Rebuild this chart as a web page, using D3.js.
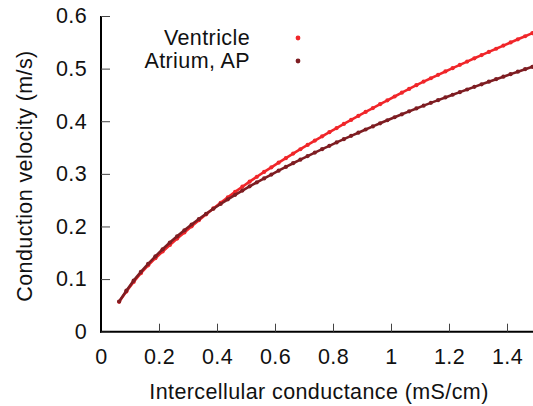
<!DOCTYPE html>
<html><head><meta charset="utf-8">
<script src="https://cdn.jsdelivr.net/npm/d3@7"></script>
<style>html,body{margin:0;padding:0;background:#fff;}svg{display:block;}</style>
</head><body>
<svg id="chart" width="533" height="406"></svg>
<script>
const conductance = [0.0625,0.0875,0.1125,0.1375,0.1625,0.1875,0.2125,0.2375,0.2625,0.2875,0.3125,0.3375,0.3625,0.3875,0.4125,0.4375,0.4625,0.4875,0.5125,0.5375,0.5625,0.5875,0.6125,0.6375,0.6625,0.6875,0.7125,0.7375,0.7625,0.7875,0.8125,0.8375,0.8625,0.8875,0.9125,0.9375,0.9625,0.9875,1.0125,1.0375,1.0625,1.0875,1.1125,1.1375,1.1625,1.1875,1.2125,1.2375,1.2625,1.2875,1.3125,1.3375,1.3625,1.3875,1.4125,1.4375,1.4625,1.4875];
const ventricle = [0.0567,0.0763,0.0946,0.1113,0.1261,0.1397,0.1525,0.1649,0.1769,0.1885,0.2003,0.2119,0.2231,0.2342,0.2449,0.2554,0.2657,0.2756,0.2851,0.2944,0.3036,0.3124,0.3213,0.3298,0.3385,0.3468,0.3550,0.3633,0.3713,0.3792,0.3870,0.3948,0.4025,0.4101,0.4176,0.4251,0.4325,0.4398,0.4470,0.4543,0.4614,0.4685,0.4753,0.4817,0.4882,0.4946,0.5009,0.5072,0.5134,0.5196,0.5257,0.5318,0.5378,0.5438,0.5497,0.5557,0.5615,0.5674];
const atrium = [0.0574,0.0779,0.0970,0.1138,0.1290,0.1433,0.1566,0.1694,0.1813,0.1927,0.2037,0.2142,0.2241,0.2337,0.2427,0.2515,0.2601,0.2683,0.2763,0.2839,0.2913,0.2987,0.3060,0.3131,0.3202,0.3270,0.3337,0.3404,0.3469,0.3533,0.3597,0.3659,0.3722,0.3782,0.3843,0.3902,0.3961,0.4019,0.4076,0.4132,0.4188,0.4243,0.4296,0.4349,0.4401,0.4452,0.4503,0.4553,0.4603,0.4653,0.4702,0.4751,0.4799,0.4847,0.4895,0.4942,0.4989,0.5035];
const seriesNames = ["Ventricle","Atrium, AP"];
const seriesColors = ["#f0262a","#7e1d22"];
const xTicks = [0,0.2,0.4,0.6,0.8,1,1.2,1.4];
const yTicks = [0,0.1,0.2,0.3,0.4,0.5,0.6];

const svg = d3.select("#chart");
const font = "'Liberation Sans', Arial, Helvetica, sans-serif";
const fs = 21.5, ls = 0.4;
const x = d3.scaleLinear().domain([0,1.5]).range([101,536]);
const y = d3.scaleLinear().domain([0,0.6]).range([331.7,16]);

// axes
const xAxis = svg.append("g").attr("transform","translate(0,331.7)")
  .call(d3.axisBottom(x).tickValues(xTicks).tickSizeInner(-8).tickSizeOuter(0).tickPadding(17)
    .tickFormat(d=>d3.format("~g")(d)));
const yAxis = svg.append("g").attr("transform","translate(101,0)")
  .call(d3.axisLeft(y).tickValues(yTicks).tickSizeInner(-9).tickSizeOuter(0).tickPadding(14)
    .tickFormat(d=>d3.format("~g")(d)));
[xAxis,yAxis].forEach(g=>{
  g.select(".domain").attr("stroke","#000").attr("stroke-width",2);
  g.selectAll(".tick line").attr("stroke","#444").attr("stroke-width",1);
  g.selectAll(".tick text").attr("font-family",font).attr("font-size",fs)
    .attr("letter-spacing",ls).attr("fill","#111");
});
xAxis.select(".domain").attr("d","M100,0H533");
yAxis.select(".domain").attr("d","M0,16V332.7");
xAxis.selectAll(".tick text").attr("dy","0.71em");

svg.append("text").attr("x",319).attr("y",399).attr("text-anchor","middle")
  .attr("font-family",font).attr("font-size",fs).attr("letter-spacing",ls).attr("fill","#111")
  .text("Intercellular conductance (mS/cm)");
svg.append("text").attr("transform","translate(32,176) rotate(-90)").attr("text-anchor","middle")
  .attr("font-family",font).attr("font-size",fs).attr("letter-spacing",ls).attr("fill","#111")
  .text("Conduction velocity (m/s)");

const allSeries = [ventricle, atrium];
const line = d3.line().x(d=>x(d[0])).y(d=>y(d[1]));
allSeries.forEach((vals,i)=>{
  const pts = conductance.map((c,j)=>[c,vals[j]]);
  const g = svg.append("g");
  g.append("path").datum(pts).attr("d",line).attr("fill","none")
    .attr("stroke",seriesColors[i]).attr("stroke-width",2.6);
  g.selectAll("circle").data(pts).join("circle")
    .attr("cx",d=>x(d[0])).attr("cy",d=>y(d[1])).attr("r",2.1).attr("fill",seriesColors[i]);
});

// legend
seriesNames.forEach((n,i)=>{
  svg.append("text").attr("x",250).attr("y",45 + i*23).attr("text-anchor","end")
    .attr("font-family",font).attr("font-size",fs).attr("letter-spacing",ls).attr("fill","#111").text(n);
  svg.append("circle").attr("cx",298).attr("cy",38 + i*23).attr("r",2.4).attr("fill",seriesColors[i]);
});
</script>
</body></html>
